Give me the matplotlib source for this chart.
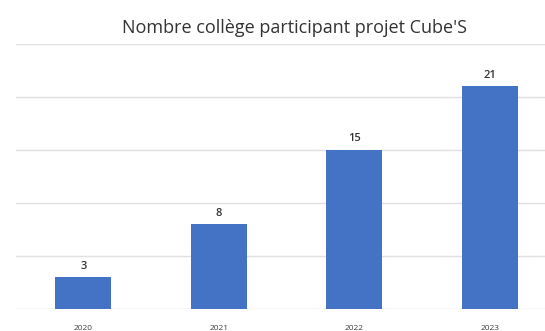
import matplotlib.pyplot as plt

years = ["2020", "2021", "2022", "2023"]
colleges = [3, 8, 15, 21]


def main():
    fig = plt.figure(figsize=(5.45, 3.31), dpi=100)
    # plot area runs a bit past the right edge, like the cropped original
    ax = fig.add_axes([15.5 / 545, 22 / 331, 542 / 545, 265 / 331])

    x = range(len(years))
    bars = ax.bar(x, colleges, width=0.41, color="#4472C4")

    for rect, v in zip(bars, colleges):
        ax.annotate(str(v), (rect.get_x() + rect.get_width() / 2, v),
                    xytext=(0, 4), textcoords="offset points",
                    ha="center", va="bottom", fontsize=8, color="#333333",
                    family="Open Sans", fontweight="semibold")

    ax.set_xlim(-0.5, len(years) - 0.5)
    ax.set_ylim(0, 25)
    ax.set_yticks(range(0, 26, 5))
    ax.yaxis.grid(True, color="#E0E0E0", linewidth=1)
    ax.set_axisbelow(True)
    ax.tick_params(axis="y", left=False, labelleft=False)
    ax.tick_params(axis="x", bottom=False, labelsize=6, labelcolor="#404040", pad=8)
    ax.set_xticks(list(x))
    ax.set_xticklabels(years, family="Open Sans")
    for s in ax.spines.values():
        s.set_visible(False)

    fig.text(294 / 545, 303 / 331, "Nombre collège participant projet Cube'S",
             ha="center", va="center", fontsize=13, color="#333333",
             family="Open Sans", fontweight="medium")

    fig.savefig("out.png", dpi=100)


if __name__ == "__main__":
    main()
